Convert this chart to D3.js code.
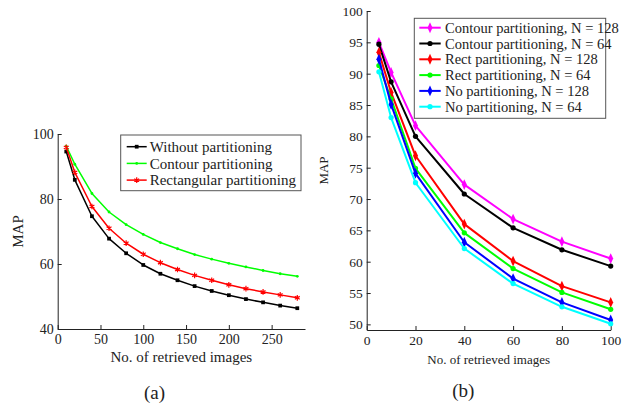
<!DOCTYPE html>
<html>
<head>
<meta charset="utf-8">
<script src="https://d3js.org/d3.v7.min.js"></script>
<style>
  html, body { margin: 0; padding: 0; background: #fff; }
  svg { display: block; }
  text { font-family: "Liberation Serif", "Times New Roman", serif; fill: #222; }
  .axis path, .axis line { stroke: #222; }
</style>
</head>
<body>
<svg id="chart" width="628" height="405"></svg>
<script>
// ---- (a) left chart data ----
const leftX = [10, 20, 40, 60, 80, 100, 120, 140, 160, 180, 200, 220, 240, 260, 280];
const leftWithout = [94.6, 85.9, 74.7, 67.8, 63.3, 59.7, 57.0, 55.0, 53.2, 51.7, 50.4, 49.2, 48.2, 47.2, 46.4];
const leftContour = [96.3, 90.7, 81.7, 76.0, 72.1, 69.1, 66.6, 64.7, 62.9, 61.5, 60.2, 59.1, 58.0, 57.0, 56.2];
const leftRect = [95.9, 88.2, 77.7, 71.0, 66.4, 63.0, 60.4, 58.3, 56.5, 55.0, 53.6, 52.4, 51.4, 50.5, 49.6];
const leftXTicks = [0, 50, 100, 150, 200, 250];
const leftYTicks = [40, 60, 80, 100];

// ---- (b) right chart data ----
const rightX = [5, 10, 20, 40, 60, 80, 100];
const contour128 = [95.0, 90.2, 81.7, 72.3, 66.8, 63.2, 60.5];
const contour64 = [94.7, 88.7, 80.0, 70.8, 65.4, 61.9, 59.3];
const rect128 = [93.4, 87.0, 76.9, 66.0, 60.1, 56.1, 53.5];
const rect64 = [91.3, 86.0, 74.9, 64.6, 58.9, 55.1, 52.4];
const noPart128 = [92.3, 85.1, 74.1, 63.1, 57.3, 53.5, 50.7];
const noPart64 = [90.3, 83.0, 72.6, 62.1, 56.5, 52.8, 50.1];
const rightXTicks = [0, 20, 40, 60, 80, 100];
const rightYTicks = [50, 55, 60, 65, 70, 75, 80, 85, 90, 95, 100];

const svg = d3.select('#chart');

function drawMarker(g, shape, x, y, color) {
    if (shape === 'dot') {
        g.append('circle').attr('cx', x).attr('cy', y).attr('r', 1.4).attr('fill', color);
    } else if (shape === 'circle') {
        g.append('circle').attr('cx', x).attr('cy', y).attr('r', 2.6).attr('fill', color);
    } else if (shape === 'square') {
        g.append('path').attr('transform', `translate(${x},${y})`)
            .attr('d', d3.symbol(d3.symbolSquare, 14)()).attr('fill', color);
    } else if (shape === 'star') {
        g.append('path').attr('transform', `translate(${x},${y})`)
            .attr('d', d3.symbol(d3.symbolAsterisk, 22)()).attr('stroke', color)
            .attr('stroke-width', 1.2).attr('fill', 'none');
    } else if (shape === 'diamond') {
        g.append('path').attr('transform', `translate(${x},${y}) scale(0.8,1)`)
            .attr('d', d3.symbol(d3.symbolDiamond, 34)()).attr('fill', color);
    }
}

function drawPanel(cfg) {
    const x = d3.scaleLinear().domain(cfg.xDomain).range(cfg.xRange);
    const y = d3.scaleLinear().domain(cfg.yDomain).range(cfg.yRange);
    const g = svg.append('g');

    // Axes (ticks inside)
    g.append('g').attr('class', 'axis')
        .attr('transform', `translate(0,${cfg.yRange[0]})`)
        .call(d3.axisBottom(x).tickValues(cfg.xTicks).tickSize(-4).tickSizeOuter(0).tickPadding(5))
        .call(a => a.selectAll('.tick line').attr('stroke', '#999'))
        .call(a => a.selectAll('text').style('font-size', cfg.tickFont + 'px').attr('fill', '#333'));
    g.append('g').attr('class', 'axis')
        .attr('transform', `translate(${cfg.xRange[0]},0)`)
        .call(d3.axisLeft(y).tickValues(cfg.yTicks).tickSize(-4).tickSizeOuter(0).tickPadding(4))
        .call(a => a.selectAll('.tick line').attr('stroke', '#999'))
        .call(a => a.selectAll('text').style('font-size', cfg.tickFont + 'px').attr('fill', '#333'));

    // Series
    cfg.series.forEach(s => {
        const pts = cfg.xs.map((xv, i) => [x(xv), y(s.values[i])]);
        g.append('path')
            .attr('d', d3.line()(pts))
            .attr('fill', 'none')
            .attr('stroke', s.color)
            .attr('stroke-width', cfg.lineWidth)
            .attr('stroke-linejoin', 'round');
        pts.forEach(p => drawMarker(g, s.shape, p[0], p[1], s.color));
    });

    // Axis labels
    g.append('text')
        .attr('transform', `translate(${cfg.yLabelX},${(cfg.yRange[0] + cfg.yRange[1]) / 2}) rotate(-90)`)
        .attr('text-anchor', 'middle').attr('dy', '0.35em')
        .style('font-size', cfg.labelFont + 'px').text('MAP');
    g.append('text')
        .attr('x', (cfg.xRange[0] + cfg.xRange[1]) / 2).attr('y', cfg.xLabelY)
        .attr('text-anchor', 'middle').attr('dy', '0.35em')
        .style('font-size', cfg.labelFont + 'px').text('No. of retrieved images');
    g.append('text')
        .attr('x', cfg.captionX).attr('y', cfg.captionY)
        .attr('text-anchor', 'middle').attr('dy', '0.35em')
        .style('font-size', '19px').text(cfg.caption);

    // Legend
    const L = cfg.legend;
    const lg = g.append('g');
    lg.append('rect').attr('x', L.x).attr('y', L.y).attr('width', L.w).attr('height', L.h)
        .attr('fill', '#fff').attr('stroke', '#555').attr('stroke-width', 1);
    cfg.series.forEach((s, i) => {
        const cy = L.firstRow + i * L.rowGap;
        lg.append('line').attr('x1', L.lineX0).attr('x2', L.lineX1).attr('y1', cy).attr('y2', cy)
            .attr('stroke', s.color).attr('stroke-width', cfg.lineWidth);
        drawMarker(lg, s.shape, (L.lineX0 + L.lineX1) / 2, cy, s.color);
        lg.append('text').attr('x', L.textX).attr('y', cy).attr('dy', '0.35em')
            .style('font-size', L.font + 'px').attr('fill', '#111').text(s.name);
    });
}

drawPanel({
    xs: leftX,
    xDomain: [0, 289], xRange: [57.7, 305],
    yDomain: [40, 100], yRange: [329, 134],
    xTicks: leftXTicks, yTicks: leftYTicks,
    tickFont: 14, labelFont: 15, lineWidth: 1.5,
    yLabelX: 18, xLabelY: 357,
    caption: '(a)', captionX: 154.5, captionY: 392,
    series: [
        { name: 'Without partitioning', values: leftWithout, color: '#000', shape: 'square' },
        { name: 'Contour partitioning', values: leftContour, color: '#00ff00', shape: 'dot' },
        { name: 'Rectangular partitioning', values: leftRect, color: '#ff0000', shape: 'star' }
    ],
    legend: { x: 120.7, y: 135, w: 180.3, h: 55.7, firstRow: 146.7, rowGap: 16.7,
              lineX0: 126.7, lineX1: 146.7, textX: 149.7, font: 15 }
});

drawPanel({
    xs: rightX,
    xDomain: [0, 100], xRange: [366.7, 610.7],
    yDomain: [49.1, 100], yRange: [330, 11],
    xTicks: rightXTicks, yTicks: rightYTicks,
    tickFont: 13.5, labelFont: 13, lineWidth: 2,
    yLabelX: 323, xLabelY: 359,
    caption: '(b)', captionX: 463.3, captionY: 390.7,
    series: [
        { name: 'Contour partitioning, N = 128', values: contour128, color: '#ff00ff', shape: 'diamond' },
        { name: 'Contour partitioning, N = 64', values: contour64, color: '#000', shape: 'circle' },
        { name: 'Rect partitioning, N = 128', values: rect128, color: '#ff0000', shape: 'diamond' },
        { name: 'Rect partitioning, N = 64', values: rect64, color: '#00ff00', shape: 'circle' },
        { name: 'No partitioning, N = 128', values: noPart128, color: '#0000ff', shape: 'diamond' },
        { name: 'No partitioning, N = 64', values: noPart64, color: '#00ffff', shape: 'circle' }
    ],
    legend: { x: 414.3, y: 18.3, w: 191.4, h: 100, firstRow: 27.7, rowGap: 15.8,
              lineX0: 419.3, lineX1: 440.7, textX: 445, font: 14.5 }
});
</script>
</body>
</html>
